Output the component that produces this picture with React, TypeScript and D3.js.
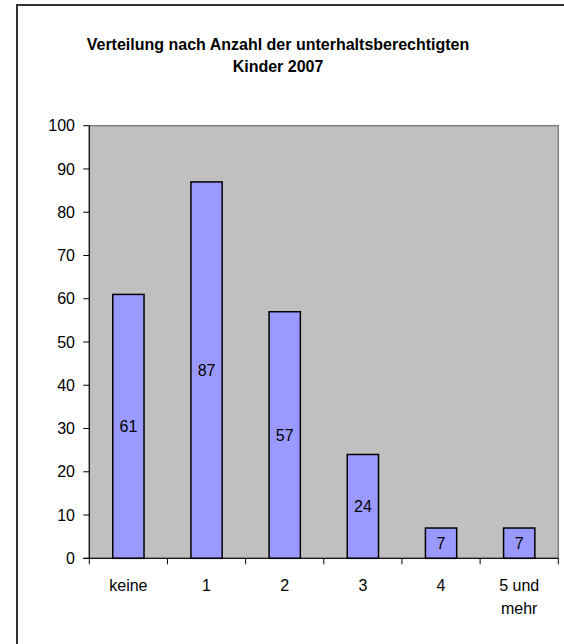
import React from "react";
import * as d3 from "d3";

const categories = ["keine", "1", "2", "3", "4", "5 und mehr"];
const values = [61, 87, 57, 24, 7, 7];
const yTicks = [0, 10, 20, 30, 40, 50, 60, 70, 80, 90, 100];
const titleLines = ["Verteilung nach Anzahl der unterhaltsberechtigten", "Kinder 2007"];

const W = 564;
const H = 644;
const plot = { left: 89.3, right: 558.3, top: 125.7, bottom: 558.3 };
const FONT = "Liberation Sans, Arial, sans-serif";
const FS = 16;

export default function App() {
  const x = d3.scaleBand<string>().domain(categories).range([plot.left, plot.right]).paddingInner(0).paddingOuter(0);
  const y = d3.scaleLinear().domain([0, 100]).range([plot.bottom, plot.top]);
  const bw = x.bandwidth() * 0.4;

  return (
    <svg width={W} height={H} style={{ position: "absolute", left: 0, top: 0, background: "#fff" }} fontFamily={FONT}>
      <rect x={17} y={5} width={700} height={700} fill="#fff" stroke="#333" strokeWidth={2} />
      {titleLines.map((t, i) => (
        <text key={i} x={278} y={50 + i * 21.5} textAnchor="middle" fontSize={16} fontWeight="bold" fill="#000">
          {t}
        </text>
      ))}
      <rect x={plot.left} y={plot.top} width={plot.right - plot.left} height={plot.bottom - plot.top} fill="#C0C0C0" stroke="#808080" strokeWidth={1.5} />
      {categories.map((c, i) => {
        const cx = (x(c) as number) + x.bandwidth() / 2;
        const v = values[i];
        return (
          <g key={c}>
            <rect x={cx - bw / 2} y={y(v)} width={bw} height={y(0) - y(v)} fill="#9999FF" stroke="#000" strokeWidth={1.5} />
            <text x={cx} y={y(v / 2)} dy="0.35em" textAnchor="middle" fontSize={FS} fill="#000">{v}</text>
          </g>
        );
      })}
      {/* y axis */}
      <line x1={plot.left} x2={plot.left} y1={plot.top} y2={plot.bottom} stroke="#000" strokeWidth={1} />
      {yTicks.map((t) => (
        <g key={t}>
          <line x1={plot.left - 6} x2={plot.left} y1={y(t)} y2={y(t)} stroke="#000" />
          <text x={75} y={y(t)} dy="0.35em" textAnchor="end" fontSize={FS} fill="#000">{t}</text>
        </g>
      ))}
      {/* x axis */}
      <line x1={plot.left - 6} x2={plot.right} y1={plot.bottom} y2={plot.bottom} stroke="#000" />
      {[...categories.map((c) => x(c) as number), plot.right].map((px, i) => (
        <line key={i} x1={px} x2={px} y1={plot.bottom} y2={plot.bottom + 6} stroke="#000" />
      ))}
      {categories.map((c) => {
        const cx = (x(c) as number) + x.bandwidth() / 2;
        const parts = c === "5 und mehr" ? ["5 und", "mehr"] : [c];
        return parts.map((p, j) => (
          <text key={c + j} x={cx} y={591 + j * 23} textAnchor="middle" fontSize={FS} fill="#000">{p}</text>
        ));
      })}
    </svg>
  );
}
